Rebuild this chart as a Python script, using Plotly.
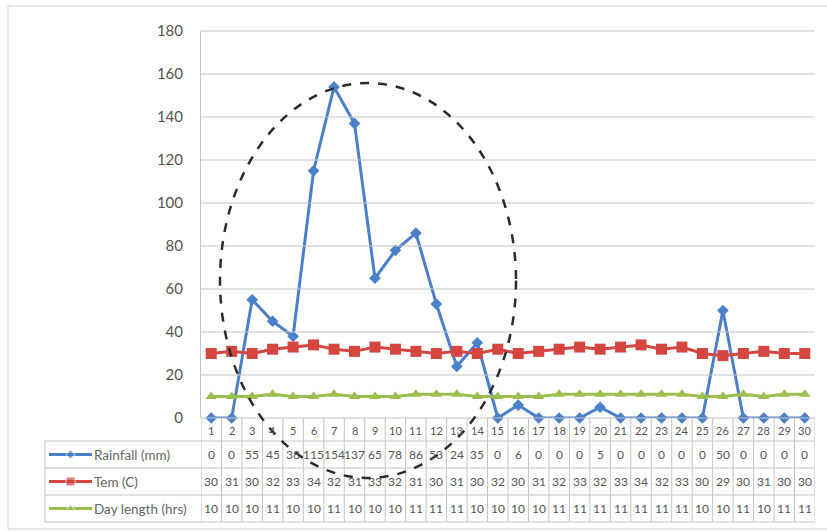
import plotly.graph_objects as go

# Daily observations, days 1-30
days = list(range(1, 31))
rainfall_mm = [0, 0, 55, 45, 38, 115, 154, 137, 65, 78, 86, 53, 24, 35, 0,
               6, 0, 0, 0, 5, 0, 0, 0, 0, 0, 50, 0, 0, 0, 0]
temperature_c = [30, 31, 30, 32, 33, 34, 32, 31, 33, 32, 31, 30, 31, 30, 32,
                 30, 31, 32, 33, 32, 33, 34, 32, 33, 30, 29, 30, 31, 30, 30]
day_length_hrs = [10, 10, 10, 11, 10, 10, 11, 10, 10, 10, 11, 11, 11, 10, 10,
                  10, 10, 11, 11, 11, 11, 11, 11, 11, 10, 10, 11, 10, 11, 11]
series_names = ["Rainfall (mm)", "Tem (C)", "Day length (hrs)"]
y_ticks = [0, 20, 40, 60, 80, 100, 120, 140, 160, 180]
Y_MAX = 180

W, H = 827, 531
BLUE = "#4a7fca"
RED = "#d4463f"
GREEN = "#9bbf4f"
GRID = "#c4c4c4"
TEXT = "#555555"
FONT = "Lato, Liberation Sans, sans-serif"


def px(x):
    return x / W


def py(y):
    return 1 - y / H


# plot area and data-table geometry (pixels)
PL, PR, PT, PB = 201, 815, 31, 418
TABLE_LEFT = 45
ROW_EDGES = [418, 441, 468, 495, 522]
Y_DOMAIN = [py(PB), py(PT)]

fig = go.Figure()

styles = [
    dict(color=BLUE, symbol="diamond", size=9),
    dict(color=RED, symbol="square", size=11),
    dict(color=GREEN, symbol="triangle-up", size=10),
]
values = [rainfall_mm, temperature_c, day_length_hrs]

for name, vals, st in zip(series_names, values, styles):
    fig.add_trace(go.Scatter(
        x=days, y=vals, name=name, mode="lines+markers",
        line=dict(color=st["color"], width=3),
        marker=dict(symbol=st["symbol"], size=st["size"], color=st["color"]),
        cliponaxis=False, showlegend=False, xaxis="x", yaxis="y",
    ))

# legend keys inside the data table's label column
for k, st in enumerate(styles):
    fig.add_trace(go.Scatter(
        x=[0, 0.5, 1], y=[2 - k] * 3, mode="lines+markers",
        line=dict(color=st["color"], width=3),
        marker=dict(symbol=st["symbol"], size=[0, st["size"] - 2, 0],
                    color=st["color"]),
        showlegend=False, hoverinfo="skip", xaxis="x2", yaxis="y2",
    ))

shapes = []
# horizontal value gridlines at each y tick
for t in y_ticks:
    gy = Y_DOMAIN[0] + (Y_DOMAIN[1] - Y_DOMAIN[0]) * t / Y_MAX
    shapes.append(dict(type="line", xref="paper", yref="paper",
                       x0=px(PL), x1=px(PR), y0=gy, y1=gy,
                       line=dict(color=GRID, width=1)))
# outer chart border
shapes.append(dict(type="rect", xref="paper", yref="paper", fillcolor="rgba(0,0,0,0)",
                   x0=px(8), x1=px(832), y0=py(6), y1=py(529),
                   line=dict(color="#d0d0d0", width=1)))

# table horizontal rules
for r in ROW_EDGES[1:]:
    shapes.append(dict(type="line", xref="paper", yref="paper",
                       x0=px(TABLE_LEFT), x1=px(PR), y0=py(r), y1=py(r),
                       line=dict(color=GRID, width=1)))
# label column left border
shapes.append(dict(type="line", xref="paper", yref="paper",
                   x0=px(TABLE_LEFT), x1=px(TABLE_LEFT),
                   y0=py(ROW_EDGES[1]), y1=py(ROW_EDGES[-1]),
                   line=dict(color=GRID, width=1)))
# column separators for each day
for d in [0] + days:
    shapes.append(dict(type="line", xref="x", yref="paper",
                       x0=d + 0.5, x1=d + 0.5, y0=py(ROW_EDGES[0]), y1=py(ROW_EDGES[-1]),
                       line=dict(color=GRID, width=1)))

# dashed ellipse highlighting the wet spell
shapes.append(dict(type="circle", xref="paper", yref="paper", fillcolor="rgba(0,0,0,0)",
                   x0=px(220), x1=px(516), y0=py(478), y1=py(83),
                   line=dict(color="#2b2b2b", width=2.5, dash="dash")))

annotations = []
row_centers = [(ROW_EDGES[i] + ROW_EDGES[i + 1]) / 2 for i in range(4)]
for d in days:
    annotations.append(dict(x=d, y=py(row_centers[0] + 1), xref="x", yref="paper",
                            text=str(d), showarrow=False, yanchor="middle",
                            font=dict(family=FONT, size=11, color=TEXT)))
for k, vals in enumerate(values):
    for d, v in zip(days, vals):
        annotations.append(dict(x=d, y=py(row_centers[k + 1]), xref="x", yref="paper",
                                text=str(v), showarrow=False, yanchor="middle",
                                font=dict(family=FONT, size=12, color=TEXT)))
    annotations.append(dict(x=px(92), y=py(row_centers[k + 1]), xref="paper", yref="paper",
                            text=series_names[k], showarrow=False,
                            xanchor="left", yanchor="middle",
                            font=dict(family=FONT, size=13.5, color="#666666")))

fig.update_layout(
    width=W, height=H,
    margin=dict(l=0, r=0, t=0, b=0, autoexpand=False),
    paper_bgcolor="white", plot_bgcolor="rgba(0,0,0,0)",
    font=dict(family=FONT, color=TEXT),
    xaxis=dict(domain=[px(PL), px(PR)], range=[0.5, 30.5], showticklabels=False,
               showgrid=False, zeroline=False, showline=False, automargin=False,
               ticks="", fixedrange=True),
    yaxis=dict(domain=Y_DOMAIN, range=[0, Y_MAX], tickvals=y_ticks,
               showgrid=False, zeroline=False, automargin=False,
               showline=True, linecolor=GRID, ticks="", ticklabelstandoff=14,
               tickfont=dict(family=FONT, size=15, color=TEXT)),
    xaxis2=dict(domain=[px(49), px(92)], range=[0, 1], visible=False,
                anchor="y2", fixedrange=True),
    yaxis2=dict(domain=[py(ROW_EDGES[-1]), py(ROW_EDGES[1])], range=[-0.5, 2.5],
                visible=False, anchor="x2", fixedrange=True),
    shapes=shapes,
    annotations=annotations,
)

# page body without default margins so the figure fills the window exactly
fig.write_html(
    "out.html",
    post_script="document.body.style.margin='0';document.body.style.overflow='hidden';",
)
